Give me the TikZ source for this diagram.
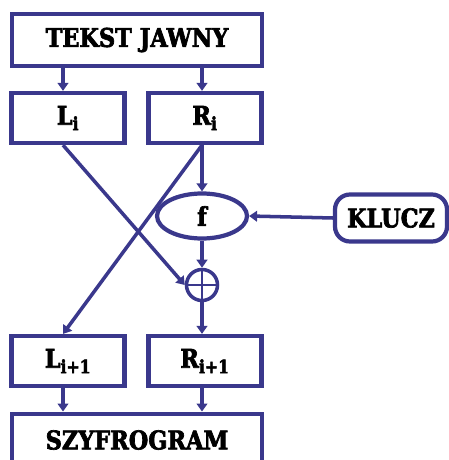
\documentclass[tikz,border=0pt]{standalone}
\usepackage{fontspec}
\newfontfamily\heavyfont{DejaVu Serif}[UprightFont={* Bold}, FakeStretch=0.87, FakeBold=2.6]
\usepackage{tikz}
\usetikzlibrary{arrows.meta, positioning, shapes.geometric, calc}
\definecolor{feistel}{RGB}{58,56,140}
\tikzset{
  blk/.style   = {draw=feistel, line width=3.6pt, fill=white, align=center,
                  font=\heavyfont\fontsize{22}{24}\selectfont, inner sep=0pt},
  half/.style  = {blk, minimum width=3.39cm, minimum height=1.5cm},
  wide/.style  = {blk, minimum width=7.5cm, minimum height=1.58cm},
  fbox/.style  = {blk, ellipse, minimum width=2.7cm, minimum height=1.35cm},
  key/.style   = {blk, rounded corners=4.5mm, minimum width=3.36cm, minimum height=1.41cm},
  xorop/.style = {draw=feistel, line width=3pt, circle, minimum size=0.93cm, inner sep=0pt,
                  path picture={\draw[feistel, line width=2pt]
                    (path picture bounding box.north) -- (path picture bounding box.south)
                    (path picture bounding box.west) -- (path picture bounding box.east);}},
  flow/.style  = {draw=feistel, line width=3pt, -{Triangle[length=2.4mm, width=3.2mm]}},
}

\begin{document}
\begin{tikzpicture}[x=0.03cm, y=-0.03cm]
    \useasboundingbox (0,0) rectangle (448,460);
    \coordinate (lc) at (63,0);
    \coordinate (rc) at (202,0);

    \node[wide] (jawny) at (137,40)  {TEKST JAWNY};
    \node[half] (li)    at (68,118)  {L\textsubscript{i}};
    \node[half] (ri)    at (205,118) {R\textsubscript{i}};
    \node[fbox] (f)     at (202,216) {f};
    \node[key]  (klucz) at (391,218) {KLUCZ};
    \node[xorop] (xor)  at (202,285) {};
    \node[half] (lnext) at (68,361)  {L\textsubscript{i+1}};
    \node[half] (rnext) at (205,361) {R\textsubscript{i+1}};
    \node[wide] (szyfr) at (137,440) {SZYFROGRAM};

    \draw[flow] (jawny.south -| lc) -- (li.north -| lc);
    \draw[flow] (jawny.south -| rc) -- (ri.north -| rc);

    % krzyzowanie polowek
    \draw[flow] (li.south -| lc) -- (xor.west);
    \draw[flow] (ri.south -| rc) -- (lnext.north -| lc);

    \draw[flow] (ri.south -| rc) -- (f.north);
    \draw[flow] (klucz.west) -- (f.east);
    \draw[flow] (f.south) -- (xor.north);
    \draw[flow] (xor.south) -- (rnext.north -| rc);

    \draw[flow] (lnext.south -| lc) -- (szyfr.north -| lc);
    \draw[flow] (rnext.south -| rc) -- (szyfr.north -| rc);
  \end{tikzpicture}
\end{document}
